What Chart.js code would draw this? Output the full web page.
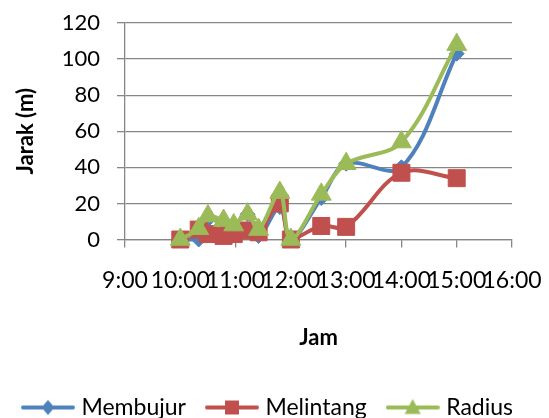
<!DOCTYPE html>
<html>
<head>
<meta charset="utf-8">
<script src="https://cdn.jsdelivr.net/npm/chart.js@4.4.1/dist/chart.umd.min.js"></script>
<style>
  html, body { margin: 0; padding: 0; background: #ffffff; }
  #wrap { width: 549px; height: 418px; }
</style>
</head>
<body>
<div id="wrap"><canvas id="chart" width="549" height="418"></canvas></div>
<script>
// Measurement times (hh:mm)
const times = ["10:00", "10:20", "10:30", "10:47", "10:58", "11:13", "11:25", "11:48", "12:00", "12:33", "13:00", "14:00", "15:00"];
// Distance in metres for each direction
const membujur  = [0, 0, 11, 9, 8, 14, 2, 18, 0, 23, 42, 40, 103];
const melintang = [0, 5.5, 3, 2, 3, 5, 4, 20, 0, 7.5, 7, 37, 34];
const radius    = [0, 6, 13, 10.5, 8, 14, 5.5, 26, 0, 25, 42, 54, 108];
// Axis ranges
const hourTicks = [9, 10, 11, 12, 13, 14, 15, 16];
const distTicks = [0, 20, 40, 60, 80, 100, 120];

const BLUE = '#4F81BD', RED = '#C0504D', GREEN = '#9BBB59', GRID = '#868686';
const FONT = 'Lato, "Liberation Sans", sans-serif';

const toHours = t => { const [h, m] = t.split(':').map(Number); return h + m / 60; };
const pts = vals => times.map((t, i) => ({ x: toHours(t), y: vals[i] }));

// Legend swatch: a short line with the series marker in the middle
function swatch(color, style, r) {
  const c = document.createElement('canvas');
  c.width = 54; c.height = 22;
  const g = c.getContext('2d');
  g.strokeStyle = color; g.lineWidth = 4; g.lineCap = 'round';
  g.beginPath(); g.moveTo(2, 11); g.lineTo(52, 11); g.stroke();
  g.fillStyle = color;
  g.beginPath();
  if (style === 'rectRot') { g.moveTo(27 - r, 11); g.lineTo(27, 11 - r * 1.15); g.lineTo(27 + r, 11); g.lineTo(27, 11 + r * 1.15); }
  else if (style === 'rect') { g.rect(27 - r, 11 - r, 2 * r, 2 * r); }
  else { g.moveTo(27, 11 - r); g.lineTo(27 + r * 0.95, 11 + r * 0.75); g.lineTo(27 - r * 0.95, 11 + r * 0.75); }
  g.closePath(); g.fill();
  return c;
}

const series = [
  { label: 'Membujur',  data: pts(membujur),  color: BLUE,  style: 'rectRot',  r: 7.5,  lr: 6.5, order: 2 },
  { label: 'Melintang', data: pts(melintang), color: RED,   style: 'rect',     r: 12,   lr: 7,   order: 1 },
  { label: 'Radius',    data: pts(radius),    color: GREEN, style: 'triangle', r: 11.5, lr: 8.5, order: 0 }
];
series.forEach(s => s.icon = swatch(s.color, s.style, s.lr));

new Chart(document.getElementById('chart'), {
  type: 'line',
  data: {
    datasets: series.map(s => ({
      label: s.label,
      data: s.data,
      order: s.order,
      borderColor: s.color,
      backgroundColor: s.color,
      borderWidth: 4,
      tension: 0.35,
      pointStyle: s.style,
      pointRadius: s.r,
      pointHoverRadius: s.r,
      pointBackgroundColor: s.color,
      pointBorderColor: s.color,
      pointBorderWidth: 1,
      clip: false,
      fill: false
    }))
  },
  options: {
    responsive: false,
    animation: false,
    layout: { padding: { left: 0, right: 10, top: 23, bottom: -11 } },
    plugins: {
      tooltip: { enabled: false },
      legend: {
        position: 'bottom',
        labels: {
          usePointStyle: true,
          pointStyleWidth: 44,
          padding: 24,
          color: '#000',
          font: { family: FONT, size: 23 },
          sort: (a, b) => a.datasetIndex - b.datasetIndex,
          generateLabels: chart => chart.data.datasets.map((d, i) => ({
            text: d.label,
            datasetIndex: i,
            pointStyle: series[i].icon,
            fillStyle: d.borderColor,
            strokeStyle: d.borderColor,
            lineWidth: 0,
            fontColor: '#000',
            hidden: false
          }))
        }
      }
    },
    scales: {
      x: {
        type: 'linear',
        min: hourTicks[0],
        max: hourTicks[hourTicks.length - 1],
        afterBuildTicks: sc => { sc.ticks = hourTicks.map(v => ({ value: v })); },
        afterFit: sc => { sc.height = 132.5; sc.paddingLeft = 0; sc.paddingRight = 37; },
        ticks: {
          color: '#000',
          font: { family: FONT, size: 23 },
          padding: 19,
          maxRotation: 0,
          autoSkip: false,
          callback: v => v + ':00'
        },
        grid: { drawOnChartArea: false, drawTicks: true, tickLength: 8, color: GRID, lineWidth: 1.3 },
        border: { display: true, color: GRID, width: 1.3 },
        title: {
          display: true, text: 'Jam', color: '#000',
          font: { family: FONT, size: 22, weight: 'bold' },
          padding: { top: 0, bottom: 21 }
        }
      },
      y: {
        min: distTicks[0],
        max: distTicks[distTicks.length - 1],
        afterBuildTicks: sc => { sc.ticks = distTicks.map(v => ({ value: v })); },
        afterFit: sc => { sc.width = 125; sc.paddingTop = 13; sc.paddingBottom = 13; },
        ticks: {
          color: '#000',
          font: { family: FONT, size: 22 },
          padding: 17
        },
        grid: { drawOnChartArea: true, drawTicks: true, tickLength: 8, color: GRID, lineWidth: 1.3 },
        border: { display: true, color: GRID, width: 1.3 },
        title: {
          display: true, text: 'Jarak (m)', color: '#000',
          font: { family: FONT, size: 22, weight: 'bold' },
          padding: { top: 13, bottom: 0 }
        }
      }
    }
  }
});
</script>
</body>
</html>
